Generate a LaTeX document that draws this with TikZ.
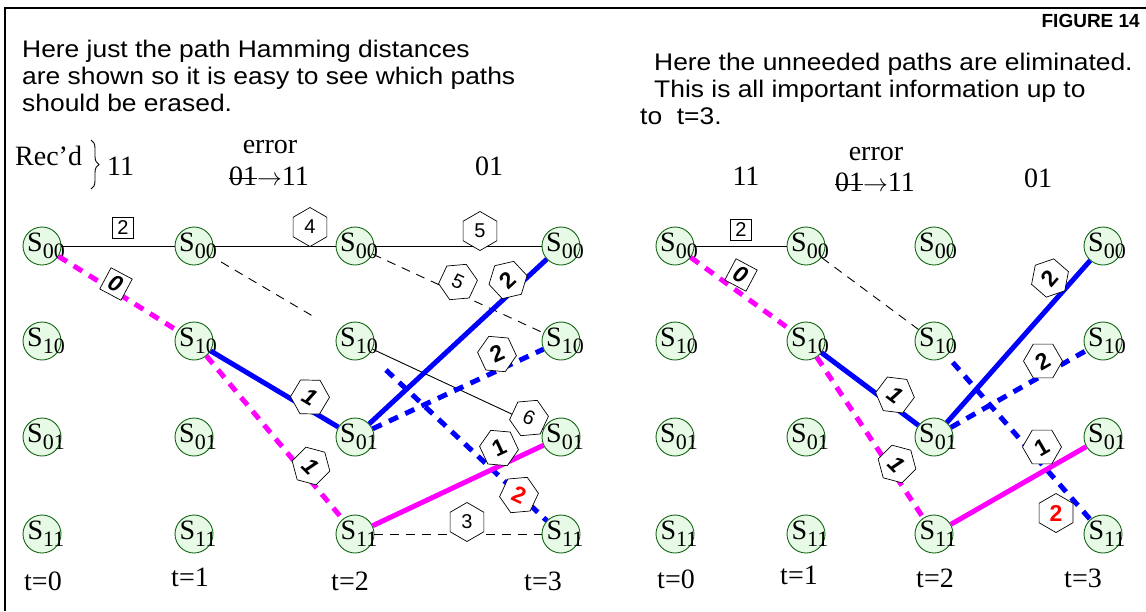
\documentclass[tikz,border=0pt]{standalone}
\usepackage{fontspec}
\setmainfont{Liberation Serif}
\newfontfamily\hsans[FakeStretch=1.1]{Liberation Sans}
\newfontfamily\lsans{Liberation Sans}
\usetikzlibrary{shapes.geometric,decorations.pathreplacing}
\definecolor{stfill}{RGB}{230,250,230}
\definecolor{stline}{RGB}{20,100,20}
\definecolor{pmag}{RGB}{255,0,255}
\newsavebox\strkbox
\newcommand\strk[1]{\sbox\strkbox{#1}\rlap{\rule[0.22em]{\wd\strkbox}{1.2pt}}\usebox\strkbox}
\newcommand\sn[1]{\makebox[0pt]{\hspace{8pt}\fontsize{28}{28}\selectfont S\raisebox{-7pt}{\fontsize{22}{22}\selectfont #1}}}
\newcommand\bd[1]{\fontsize{23}{23}\selectfont\bfseries #1}

\begin{document}
\begin{tikzpicture}[x=1pt, y=-1pt,
    state/.style={circle, draw=stline, fill=stfill, line width=0.9pt, minimum size=38pt, inner sep=0pt},
    hex/.style={regular polygon, regular polygon sides=6, shape border rotate=30, draw, fill=white, line width=0.7pt, minimum size=39pt, inner sep=0pt, font=\lsans\fontsize{20}{20}\selectfont},
    sq/.style={rectangle, draw, fill=white, line width=0.7pt, minimum size=21pt, inner sep=0pt, font=\lsans\fontsize{20}{20}\selectfont},
    txt/.style={anchor=base, inner sep=0pt, font=\fontsize{28}{28}\selectfont},
    para/.style={anchor=base west, inner sep=0pt, font=\hsans\fontsize{24}{27}\selectfont},
    solidl/.style={line width=0.9pt},
    dashl/.style={line width=0.9pt, dash pattern=on 9pt off 7pt},
    magl/.style={pmag, line width=5pt},
    magd/.style={magl, dash pattern=on 10pt off 8pt},
    bluel/.style={blue, line width=5pt},
    blued/.style={bluel, dash pattern=on 10pt off 8pt}]
    \useasboundingbox (0,0) rectangle (1146,611);
    \draw[line width=1.5pt] (5,611) -- (5,8) -- (1146,8);
    \node[anchor=base east, inner sep=0pt, font=\lsans\bfseries\fontsize{19}{19}\selectfont] (fig) at (1140,27) {FIGURE 14};
    \node[para] (hdL1) at (22,57) {Here just the path Hamming distances};
    \node[para] (hdL2) at (22,84) {are shown so it is easy to see which paths};
    \node[para] (hdL3) at (22,111) {should be erased.};
    \node[para] (hdR1) at (654,70) {Here the unneeded paths are eliminated.};
    \node[para] (hdR2) at (654,97) {This is all important information up to};
    \node[para] (hdR3) at (640,124) {to\ \ t=3.};

    \node[txt, anchor=base west] (recd) at (15,165) {Rec’d};
    \draw[line width=0.9pt, decorate, decoration={brace, amplitude=8pt}] (91,140) -- (91,189);
    \node[txt, anchor=base west] (rx0L) at (107,175) {11};
    \node[txt] (errL) at (270,153) {error};
    \node[txt] (fixL) at (269,185) {\strk{01}$\rightarrow$11};
    \node[txt] (rx2L) at (489,175) {01};
    \node[txt] (rx0R) at (746,185) {11};
    \node[txt] (errR) at (876,160) {error};
    \node[txt] (fixR) at (875,191) {\strk{01}$\rightarrow$11};
    \node[txt] (rx2R) at (1038,187) {01};

    \foreach \t/\x in {0/42,1/194,2/355,3/561}
        \foreach \s/\y in {00/246,10/341,01/437,11/534}
            \node[state] (L\t-\s) at (\x,\y) {\sn{\s}};
    \foreach \t/\x in {0/675,1/806,2/934,3/1103}
        \foreach \s/\y in {00/246,10/341,01/437,11/534}
            \node[state] (R\t-\s) at (\x,\y) {\sn{\s}};
    \foreach \n/\x/\y in {0/43/590,1/190/586,2/350/590,3/543/590}
        \node[txt] (tL\n) at (\x,\y) {t=\n};
    \foreach \n/\x/\y in {0/676/588,1/799/584,2/935/587,3/1083/587}
        \node[txt] (tR\n) at (\x,\y) {t=\n};

    \draw[solidl] (L0-00) -- (L1-00);
    \draw[solidl] (L1-00) -- (L2-00);
    \draw[solidl] (L2-00) -- (L3-00);
    \draw[dashl, shorten <=12pt, shorten >=25pt] (L1-00) -- (L2-10);
    \draw[dashl] (L2-00) -- (L3-10);
    \draw[solidl] (L2-10) -- (L3-01);
    \draw[dashl] (L2-11) -- (L3-11);
    \draw[magd] (L0-00) -- (L1-10);
    \draw[magd] (L1-10) -- (L2-11);
    \draw[bluel] (L1-10) -- (L2-01);
    \draw[bluel] (L2-01) -- (L3-00);
    \draw[blued] (L2-01) -- (L3-10);
    \draw[blued, shorten <=23pt] (L2-10) -- (L3-11);
    \draw[magl] (L2-11) -- (L3-01);

    \draw[solidl] (R0-00) -- (R1-00);
    \draw[dashl] (R1-00) -- (R2-10);
    \draw[magd] (R0-00) -- (R1-10);
    \draw[magd] (R1-10) -- (R2-11);
    \draw[bluel] (R1-10) -- (R2-01);
    \draw[bluel] (R2-01) -- (R3-00);
    \draw[blued] (R2-01) -- (R3-10);
    \draw[blued, shorten <=9pt] (R2-10) -- (R3-11);
    \draw[magl] (R2-11) -- (R3-01);

    \node[sq] (dL01) at (123,228) {2};
    \node[sq, minimum size=24pt, rotate=-28] (dL02) at (116,284) {\bd{\itshape 0}};
    \node[hex] (dL12) at (310,227) {4};
    \node[hex] (dL23) at (480,231) {5};
    \node[hex, rotate=-25] (dL24) at (458,282) {5};
    \node[hex, rotate=43] (dL25) at (508,280) {\bd{2}};
    \node[hex, rotate=25] (dL26) at (497,354) {\bd{2}};
    \node[hex, rotate=-31] (dL13) at (310,397) {\bd{\itshape 1}};
    \node[hex, rotate=-45] (dL14) at (311,466) {\bd{\itshape 1}};
    \node[hex, rotate=-25] (dL27) at (529,418) {6};
    \node[hex, rotate=25] (dL28) at (499,448) {\bd{1}};
    \node[hex, rotate=-25] (dL29) at (519,495) {\color{red}\bd{2}};
    \node[hex] (dL30) at (467,522) {3};

    \node[sq] (dR01) at (741,230) {2};
    \node[sq, minimum size=24pt, rotate=-28] (dR02) at (741,275) {\bd{\itshape 0}};
    \node[hex, rotate=-37] (dR13) at (895,395) {\bd{\itshape 1}};
    \node[hex, rotate=-45] (dR14) at (897,464) {\bd{\itshape 1}};
    \node[hex, rotate=49] (dR25) at (1050,278) {\bd{2}};
    \node[hex, rotate=30] (dR26) at (1043,361) {\bd{2}};
    \node[hex, rotate=30] (dR28) at (1042,447) {\bd{1}};
    \node[hex] (dR29) at (1056,513) {\color{red}\bd{2}};
\end{tikzpicture}
\end{document}
